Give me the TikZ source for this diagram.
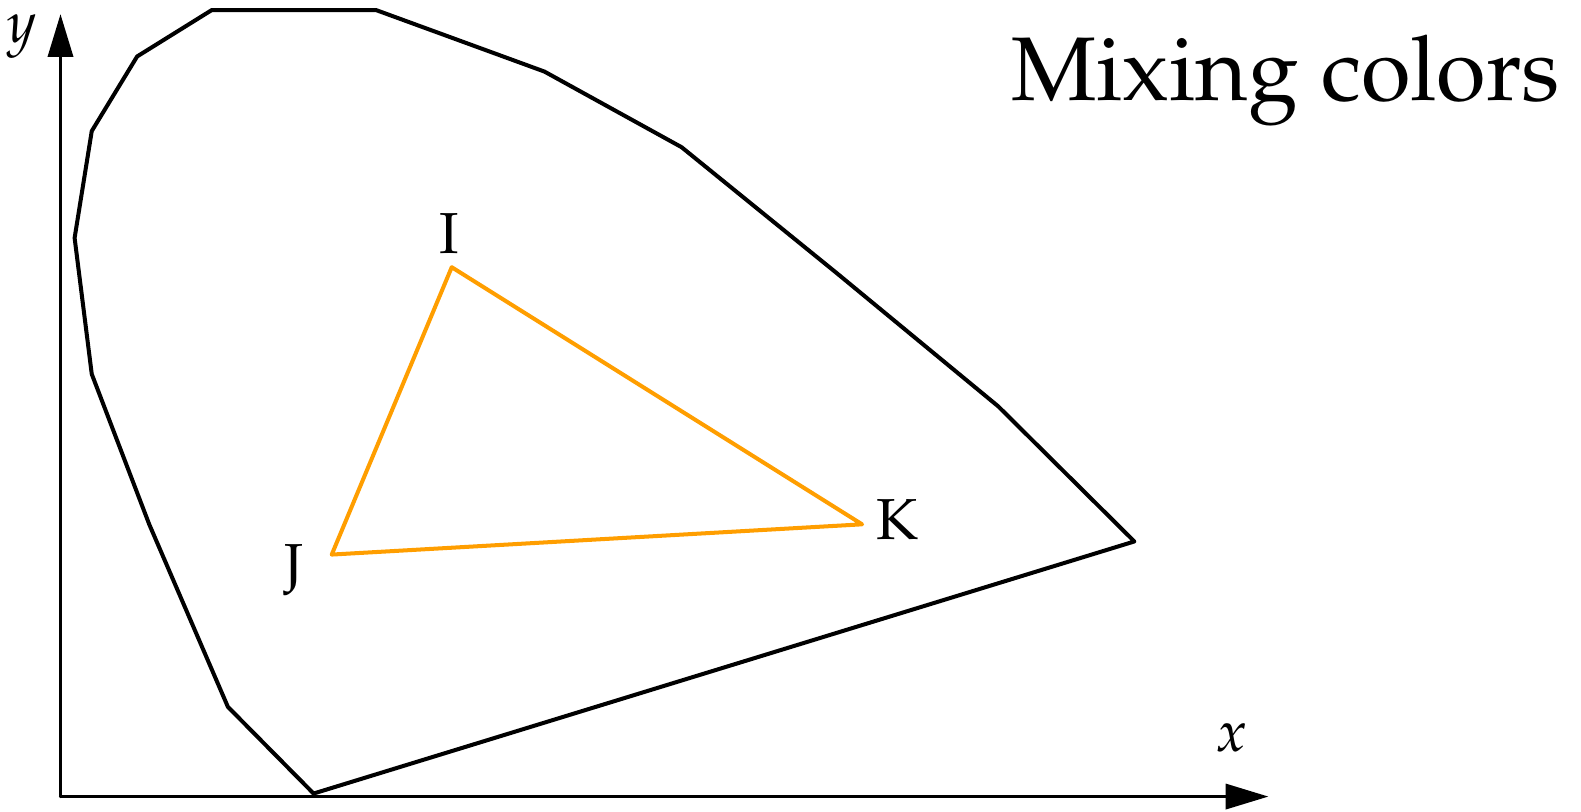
\documentclass[tikz,border=0pt]{standalone}
\usepackage[T1]{fontenc}
\usepackage{mathpazo}
\usepackage{xcolor}
\usepackage{tikz}
\usetikzlibrary{arrows.meta}
\definecolor{mxOrange}{HTML}{FF9E00}
\definecolor{mxInk}{HTML}{000000}
\tikzset{
  mx diagram/.style={text=mxInk, line cap=round, line join=round,
    x=0.01059cm, y=-0.01059cm},
  mx axis/.style={-{Triangle[length=12.8pt,width=7.5pt]}, draw=mxInk, line width=1pt},
  mx gamut/.style={draw=mxInk, line width=1.2pt},
  mx mix/.style={draw=mxOrange, line width=1.2pt},
  mx label/.style={font=\LARGE, inner sep=0pt},
  mx title/.style={font=\fontsize{27}{32}\selectfont, inner sep=0pt}
}
\begin{document}
\begin{tikzpicture}[mx diagram]
\useasboundingbox (0,0) rectangle (1568,805);
% axes
\coordinate (o) at (60,790);
\coordinate (xend) at (1258,790);
\coordinate (yend) at (60,14);
\draw[mx axis] (o) -- (xend);
\draw[mx axis] (o) -- (yend);
\node[mx label] (xlab) at (1222,732) {$x$};
\node[mx label] (ylab) at (22,36) {$y$};
% gamut outline
\coordinate (g1) at (311,787);
\coordinate (g2) at (226,701);
\coordinate (g3) at (148,520);
\coordinate (g4) at (91,371);
\coordinate (g5) at (74,236);
\coordinate (g6) at (91,130);
\coordinate (g7) at (136,56);
\coordinate (g8) at (210,10);
\coordinate (g9) at (373,10);
\coordinate (g10) at (540,71);
\coordinate (g11) at (676,146);
\coordinate (g12) at (830,271);
\coordinate (g13) at (990,403);
\coordinate (g14) at (1125,537);
\draw[mx gamut] (g1) -- (g2) -- (g3) -- (g4) -- (g5) -- (g6) -- (g7) -- (g8)
  -- (g9) -- (g10) -- (g11) -- (g12) -- (g13) -- (g14) -- cycle;
% mixing triangle
\coordinate (i) at (448,265);
\coordinate (j) at (329,550);
\coordinate (k) at (855,520);
\draw[mx mix] (i) -- (k) -- (j) -- cycle;
\node[mx label] (ilab) at (446,232) {I};
\node[mx label] (jlab) at (292,565) {J};
\node[mx label] (klab) at (890,515) {K};
\node[mx title,anchor=base east] (title) at (1548,100) {Mixing colors};
\end{tikzpicture}
\end{document}
